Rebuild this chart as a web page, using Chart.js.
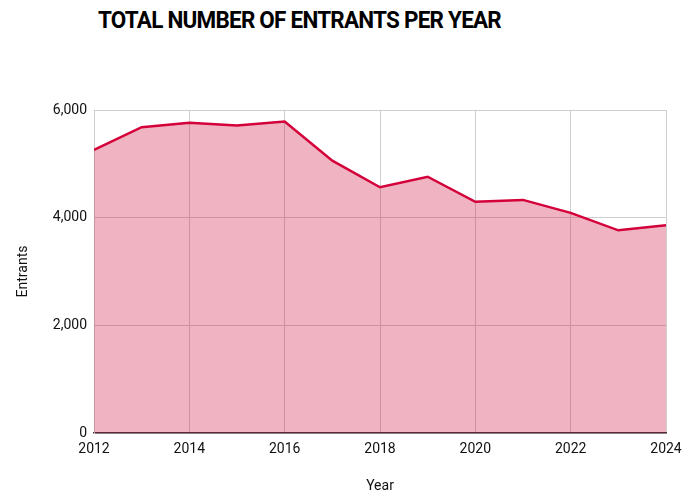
<!DOCTYPE html>
<html>
<head>
<meta charset="utf-8">
<script src="https://cdn.jsdelivr.net/npm/chart.js@4"></script>
<style>
  html, body { margin: 0; padding: 0; background: #fff; }
  .wrap { position: relative; width: 683px; height: 493px; }
  .title {
    position: absolute; left: 98px; top: 6px;
    font: bold 24px Roboto, sans-serif; color: #000;
    letter-spacing: -0.8px; white-space: nowrap;
    transform-origin: 0 0;
  }
  canvas { position: absolute; left: 0; top: 0; }
</style>
</head>
<body>
<div class="wrap">
  <div class="title">TOTAL NUMBER OF ENTRANTS PER YEAR</div>
  <canvas id="entrantsChart" width="683" height="493"></canvas>
</div>
<script>
const years = [2012, 2013, 2014, 2015, 2016, 2017, 2018, 2019, 2020, 2021, 2022, 2023, 2024];
const entrants = [5260, 5680, 5765, 5710, 5785, 5060, 4565, 4760, 4295, 4330, 4090, 3765, 3860];
const yTicks = [0, 2000, 4000, 6000];

// squeeze the heading to its condensed width
const title = document.querySelector('.title');
const titleWidth = title.getBoundingClientRect().width;
title.style.transform = 'scaleX(' + (403 / titleWidth) + ')';

const tickFont = { family: 'Roboto', size: 14 };

const ctx = document.getElementById('entrantsChart');

new Chart(ctx, {
  type: 'line',
  data: {
    datasets: [{
      label: 'Entrants',
      data: years.map((year, i) => ({ x: year, y: entrants[i] })),
      borderColor: '#d4003a',
      backgroundColor: 'rgba(203, 10, 58, 0.31)',
      borderWidth: 2.5,
      fill: 'origin',
      pointRadius: 0,
      tension: 0,
    }],
  },
  options: {
    responsive: false,
    animation: false,
    layout: {
      padding: { left: 0, right: 17, top: 110, bottom: 0 },
    },
    plugins: {
      legend: { display: false },
      tooltip: { enabled: false },
    },
    scales: {
      x: {
        type: 'linear',
        min: 2012,
        max: 2024,
        ticks: {
          stepSize: 2,
          font: tickFont,
          color: '#111',
          padding: 8,
          maxRotation: 0,
          callback: (value) => String(value),
        },
        grid: { color: '#cfcfcf', drawTicks: false },
        border: { color: '#333', width: 1.5 },
        title: {
          display: true,
          text: 'Year',
          font: tickFont,
          color: '#111',
          padding: { top: 0, bottom: -2 },
        },
        afterFit: (scale) => {
          scale.height = 60;
          // let the end labels hang over the edge instead of shrinking the plot
          scale.paddingLeft = 0;
          scale.paddingRight = 0;
        },
      },
      y: {
        min: 0,
        max: 6000,
        afterBuildTicks: (scale) => {
          scale.ticks = yTicks.map((v) => ({ value: v }));
        },
        ticks: {
          font: tickFont,
          color: '#111',
          padding: 7,
          callback: (value) => value.toLocaleString('en-US'),
        },
        grid: { color: '#cfcfcf', drawTicks: false },
        border: { color: '#cfcfcf' },
        title: {
          display: true,
          text: 'Entrants',
          font: tickFont,
          color: '#111',
          padding: { top: 15, bottom: 0 },
        },
        afterFit: (scale) => { scale.width = 94; },
      },
    },
  },
});
</script>
</body>
</html>
